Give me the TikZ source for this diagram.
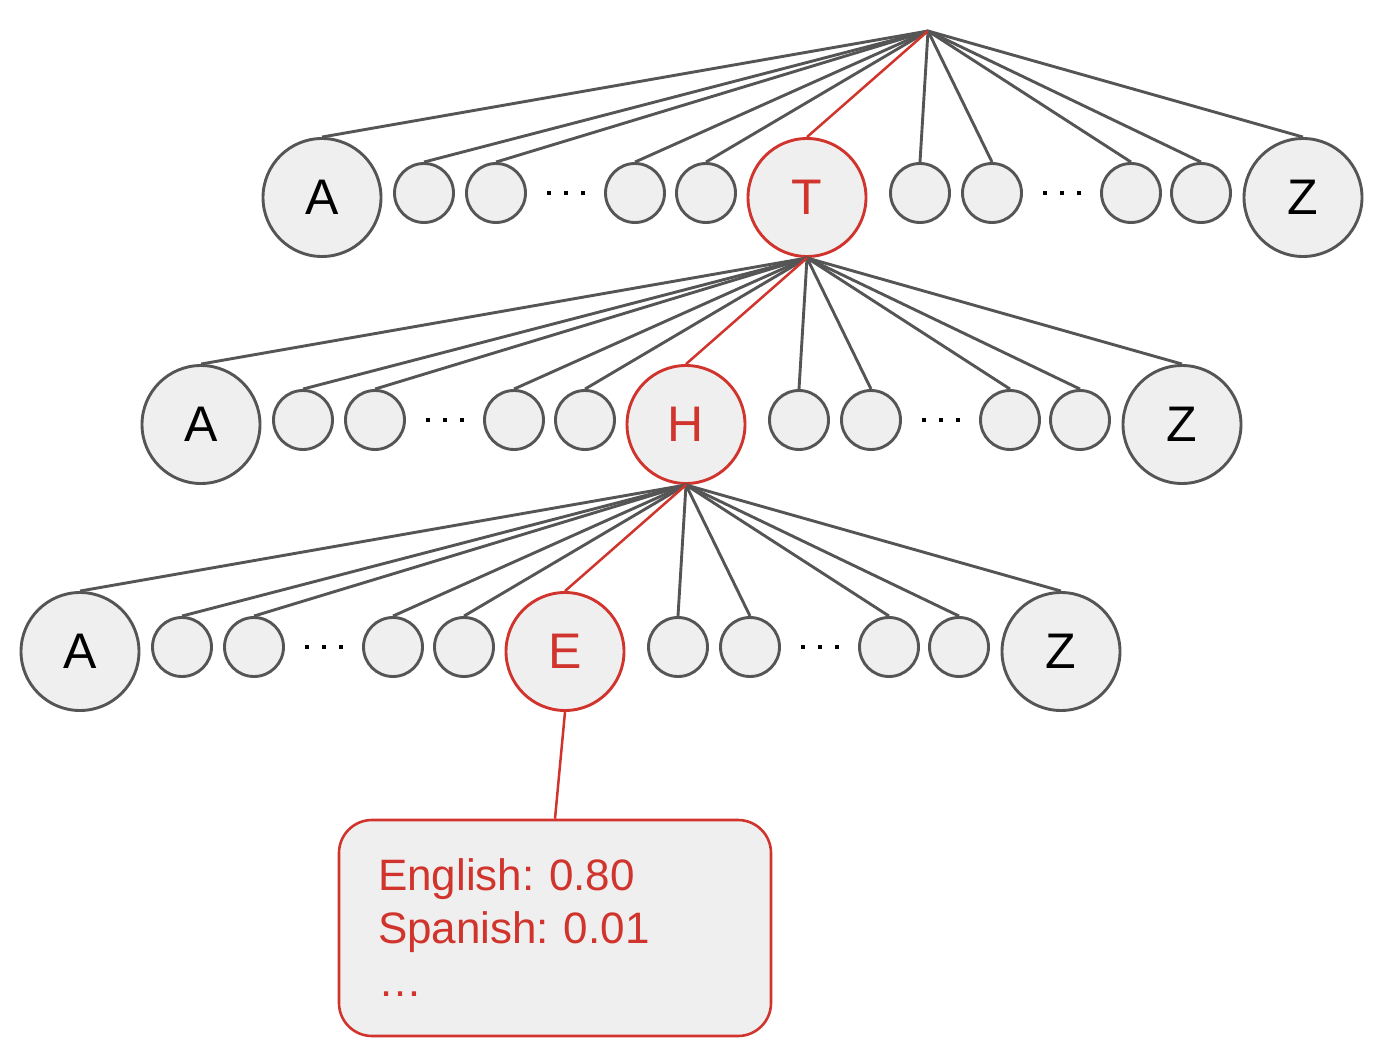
\documentclass[tikz,border=0pt]{standalone}
\usepackage{fontspec}
\setmainfont{Liberation Sans}
\frenchspacing
\definecolor{edgegray}{RGB}{85,85,85}
\definecolor{nfill}{RGB}{239,239,239}
\definecolor{hl}{RGB}{208,52,44}
\begin{document}
\begin{tikzpicture}[x=1pt,y=-1pt,
  bignode/.style={circle,draw=edgegray,fill=nfill,line width=2.9pt,minimum size=118pt,inner sep=0pt,font=\fontsize{50}{50}\selectfont},
  smallnode/.style={circle,draw=edgegray,fill=nfill,line width=2.9pt,minimum size=59pt,inner sep=0pt},
  hotnode/.style={draw=hl,text=hl},
  link/.style={draw=edgegray,line width=2.9pt},
  hlink/.style={draw=hl,line width=2.5pt},
  probbox/.style={draw=hl,fill=nfill,text=hl,rounded corners=33pt,line width=2.6pt,minimum width=432pt,minimum height=216pt,inner xsep=0pt,text width=354pt,align=left,font=\fontsize{44}{53}\selectfont}]
\useasboundingbox (0,0) rectangle (1400,1051);
\coordinate (root) at (928,31);
\foreach \r/\L/\up in {0/T/root,1/H/r0m.south,2/E/r1m.south}{
  \begin{scope}[shift={(-121*\r,227*\r)}]
    \node[bignode] (r\r A) at (322,197.5) {\raisebox{-2pt}{A}};
    \node[bignode] (r\r Z) at (1303,197.5) {\raisebox{-2pt}{Z}};
    \node[bignode,hotnode] (r\r m) at (807,197.5) {\raisebox{-2pt}{\L}};
    \foreach \n/\x in {s1/424,s2/496,s3/635,s4/706,s5/920,s6/992,s7/1131,s8/1201}
      \node[smallnode] (r\r\n) at (\x,193) {};
    \foreach \x in {549,566,583,1045,1062,1079}
      \fill (\x-2.3,190.7) rectangle +(4.6,4.6);
  \end{scope}
  \foreach \n in {A,s1,s2,s3,s4,s5,s6,s7,s8,Z}
    \draw[link] (\up) -- (r\r\n.north);
  \draw[hlink] (\up) -- (r\r m.north);
}
\node[probbox] (box) at (555,928) {English: 0.80\\Spanish: 0.01\\…};
\draw[hlink] (r2m.south) -- (box.north);
\end{tikzpicture}
\end{document}
